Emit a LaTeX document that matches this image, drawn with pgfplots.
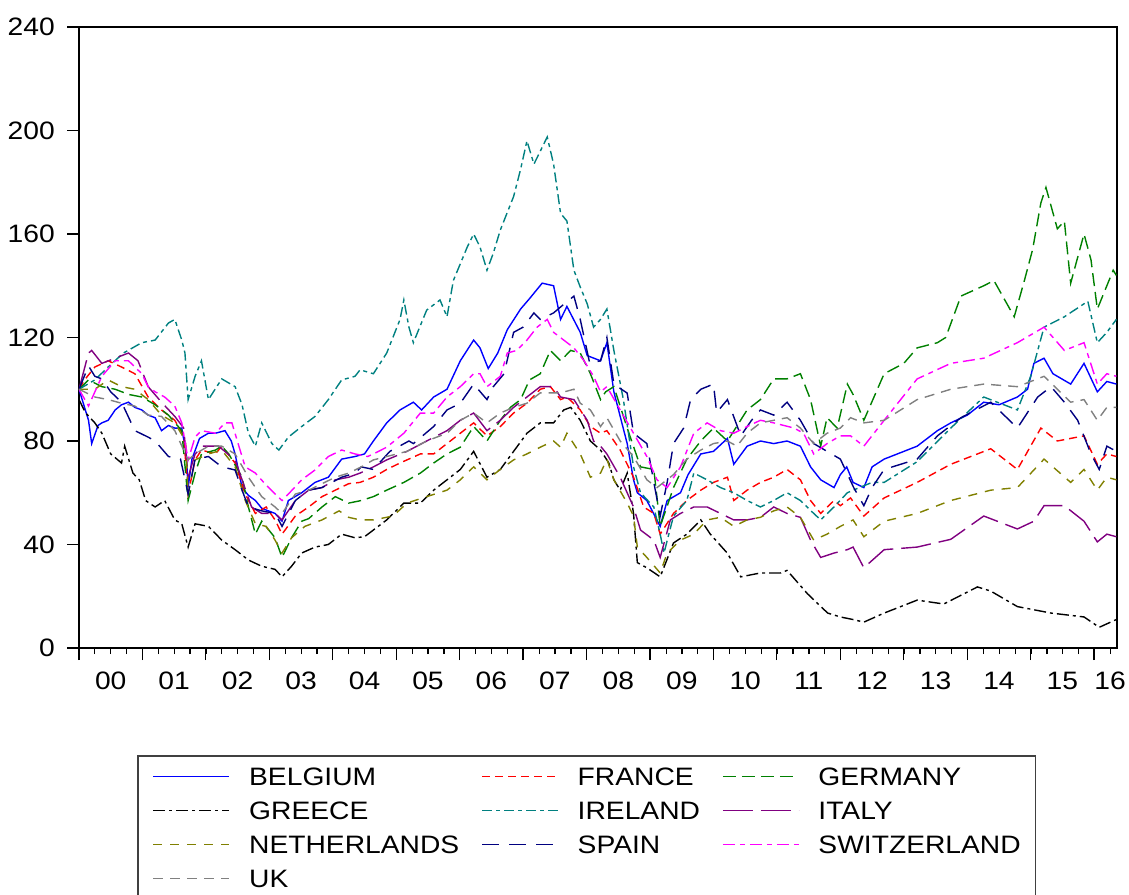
\documentclass[border=0pt]{standalone}
\usepackage{fontspec}
\setmainfont{Liberation Sans}[FakeStretch=1.12]
\usepackage{pgfplots}
\usepackage{pgfplotstable}
\pgfplotsset{compat=1.18}

\definecolor{cBE}{RGB}{0,0,255}
\definecolor{cFR}{RGB}{255,0,0}
\definecolor{cDE}{RGB}{0,128,0}
\definecolor{cGR}{RGB}{0,0,0}
\definecolor{cIE}{RGB}{0,128,128}
\definecolor{cIT}{RGB}{128,0,128}
\definecolor{cNL}{RGB}{128,128,0}
\definecolor{cES}{RGB}{0,0,128}
\definecolor{cCH}{RGB}{255,0,255}
\definecolor{cUK}{RGB}{128,128,128}

\pgfplotstableread{
x y
2000.0 100
2000.05 96
2000.15 88
2000.2 79
2000.3 86
2000.36 87
2000.46 88
2000.57 92
2000.67 94
2000.78 95
2000.88 93
2000.99 92
2001.09 90
2001.2 89
2001.3 84
2001.41 86
2001.51 85
2001.62 85
2001.69 75
2001.72 62
2001.78 73
2001.9 81
2002.04 83
2002.15 83
2002.3 84
2002.4 80
2002.46 75
2002.57 62
2002.67 59
2002.78 57
2002.88 54
2003.09 52
2003.2 49
2003.3 57
2003.51 60
2003.72 64
2003.93 66
2004.14 73
2004.35 74
2004.5 75
2004.64 80
2004.85 87
2005.06 92
2005.27 95
2005.4 92
2005.59 97
2005.8 100
2006.01 111
2006.22 119
2006.32 116
2006.45 108
2006.6 114
2006.75 123
2006.96 131
2007.1 135
2007.3 141
2007.48 140
2007.59 127
2007.69 132
2007.9 122
2008.01 113
2008.22 111
2008.32 118
2008.43 99
2008.64 79
2008.74 65
2008.8 60
2008.95 57
2009.16 47
2009.27 57
2009.48 60
2009.6 67
2009.8 75
2010.0 76
2010.22 81
2010.32 71
2010.53 78
2010.74 80
2010.95 79
2011.16 80
2011.37 78
2011.53 70
2011.69 65
2011.9 62
2012.0 67
2012.1 70
2012.2 64
2012.37 62
2012.5 70
2012.69 73
2013.21 78
2013.53 84
2013.74 87
2014.0 90
2014.26 95
2014.5 94
2014.79 97
2014.95 100
2015.05 110
2015.21 112
2015.35 106
2015.63 102
2015.84 110
2016.05 99
2016.2 103
2016.35 102
}\dBE

\pgfplotstableread{
x y
2000.0 100
2000.1 104
2000.25 108.6
2000.46 111
2000.67 108.6
2000.88 106
2001.09 97
2001.3 92
2001.51 88
2001.65 82
2001.72 59.5
2001.83 72.7
2001.93 76.5
2002.15 75
2002.25 78
2002.46 71.5
2002.62 59.5
2002.78 52
2002.95 54.5
2003.09 49.5
2003.2 44
2003.41 51
2003.62 54.5
2003.83 58.5
2004.04 61
2004.25 63.5
2004.43 64
2004.64 66
2004.85 69
2005.06 71.5
2005.38 75
2005.59 75
2005.8 79
2006.01 83
2006.22 87
2006.43 82
2006.64 85.6
2006.85 90.8
2007.06 94.6
2007.27 100
2007.43 101
2007.59 96
2007.69 97
2007.9 92
2008.06 85.6
2008.22 83
2008.32 84
2008.53 76.5
2008.74 66
2008.9 54.5
2009.06 52
2009.16 44
2009.37 52
2009.58 57
2009.8 61
2010.0 64
2010.22 66
2010.32 57
2010.53 61
2010.74 64
2010.95 66
2011.16 69
2011.37 65
2011.53 57
2011.69 52
2011.9 57
2012.0 55
2012.16 58
2012.37 51
2012.69 58
2013.21 64
2013.74 71
2014.37 77
2014.79 69
2015.16 85
2015.42 80
2015.84 82
2016.05 71
2016.2 75
2016.35 74
}\dFR

\pgfplotstableread{
x y
2000.0 100
2000.15 103.6
2000.36 101
2000.57 100
2000.78 98
2000.99 97
2001.2 94
2001.41 90
2001.62 84
2001.72 57
2001.83 67.6
2001.93 75
2002.15 76.5
2002.25 78
2002.36 75
2002.57 66
2002.67 54.5
2002.78 44
2002.88 49
2003.09 42.6
2003.2 35
2003.35 42.6
2003.51 49
2003.62 50
2003.83 54.5
2004.04 58.5
2004.25 56
2004.45 57
2004.64 58.5
2004.85 61
2005.12 64
2005.38 67.6
2005.59 71.5
2005.8 75
2006.01 77.6
2006.22 85.6
2006.43 80
2006.64 88
2006.8 93
2006.96 96
2007.1 103.6
2007.27 106
2007.43 115
2007.59 111
2007.75 115
2007.9 114
2008.06 106
2008.22 96
2008.3 99
2008.43 101
2008.64 85
2008.85 70
2009.06 69
2009.16 47
2009.37 62
2009.58 73
2009.8 80
2010.0 85
2010.22 80
2010.53 92
2010.74 96
2010.95 104
2011.16 104
2011.37 106
2011.53 96
2011.69 78
2011.79 89
2011.95 85
2012.11 102
2012.2 98
2012.37 88
2012.69 106
2013.0 110
2013.21 116
2013.53 118
2013.66 120
2013.9 136
2014.26 140
2014.42 142
2014.74 128
2014.9 142
2015.03 154
2015.16 172
2015.24 178
2015.42 162
2015.53 165
2015.63 141
2015.84 160
2015.95 150
2016.05 131
2016.2 140
2016.3 146
2016.35 144
}\dDE

\pgfplotstableread{
x y
2000.0 96
2000.1 91
2000.25 87
2000.36 83
2000.5 75
2000.67 71.5
2000.72 78
2000.85 67.6
2000.95 65
2001.05 57
2001.2 54.5
2001.35 57
2001.51 49.5
2001.62 48
2001.72 39
2001.83 48
2002.04 47
2002.25 41.7
2002.46 38
2002.67 34
2002.88 31.6
2003.09 30.4
2003.2 27.5
2003.35 31.6
2003.51 36.7
2003.72 39
2003.93 40
2004.14 44
2004.35 42.6
2004.5 43
2004.85 49.5
2005.12 56
2005.38 56
2005.59 61
2005.8 65
2006.01 69
2006.22 76
2006.43 66
2006.64 69
2006.85 76
2007.06 83
2007.27 87
2007.48 87
2007.64 92
2007.75 93
2007.9 88
2008.06 80
2008.22 76.5
2008.35 71.5
2008.43 65
2008.53 61
2008.64 67.6
2008.74 52
2008.8 33
2008.95 31
2009.16 27.5
2009.37 40.6
2009.58 44
2009.8 49.5
2009.95 44
2010.22 36.6
2010.43 27.5
2010.74 29
2011.06 29
2011.16 30
2011.48 21
2011.8 13.5
2012.0 12
2012.2 11
2012.37 10
2012.69 13.5
2013.21 18.5
2013.63 17
2014.16 23.6
2014.37 22
2014.79 16
2015.32 13.5
2015.84 12
2016.08 8
2016.35 11
}\dGR

\pgfplotstableread{
x y
2000.0 100
2000.25 103.6
2000.46 108.6
2000.7 114
2000.99 118
2001.2 119
2001.41 125.6
2001.51 127
2001.62 119
2001.67 114
2001.72 96
2001.83 105
2001.93 111
2002.04 96
2002.25 104
2002.46 101
2002.57 94
2002.67 83
2002.78 78
2002.88 87
2003.04 79
2003.15 76.5
2003.3 81.5
2003.51 85.6
2003.72 89.5
2003.93 96
2004.14 103.6
2004.35 105
2004.43 107.5
2004.64 106
2004.85 114
2005.06 127
2005.12 134.5
2005.2 124
2005.27 118
2005.48 130.6
2005.69 134.5
2005.8 128
2005.9 142
2006.12 155
2006.22 160
2006.32 155
2006.43 146
2006.53 152.6
2006.64 161.5
2006.85 174.5
2006.96 185
2007.06 196
2007.17 187
2007.38 197.5
2007.48 187
2007.59 168
2007.69 165
2007.8 146
2007.9 139.5
2008.01 133
2008.11 124
2008.22 127
2008.32 131
2008.43 115
2008.58 96
2008.74 70
2008.85 60
2009.06 54.5
2009.16 44
2009.22 36.7
2009.37 51
2009.58 57
2009.69 67.6
2009.9 65
2010.11 62
2010.32 60
2010.53 57
2010.74 54.5
2010.95 57
2011.16 60
2011.37 57
2011.58 52
2011.69 49.5
2011.9 54.5
2012.11 60
2012.3 62
2012.5 64
2012.69 64
2013.21 72
2013.74 85
2014.26 97
2014.79 92
2015.0 105
2015.21 124
2015.53 128
2015.9 134
2016.05 118
2016.2 122
2016.35 127
}\dIE

\pgfplotstableread{
x y
2000.0 100
2000.15 114
2000.2 115
2000.36 110
2000.57 112
2000.78 114
2000.93 111
2001.09 101
2001.3 95
2001.51 89.5
2001.65 85
2001.72 66
2001.83 75
2001.95 78
2002.2 78
2002.46 72.7
2002.57 65
2002.72 54.5
2002.88 52
2003.09 52
2003.2 49.5
2003.41 57
2003.62 61
2003.83 62
2004.04 65
2004.25 66
2004.43 67.6
2004.64 70
2004.85 72.7
2005.17 76
2005.48 80
2005.8 84
2006.01 88
2006.22 90.8
2006.43 84
2006.64 88
2006.85 93
2007.06 97
2007.27 101
2007.48 101
2007.59 97
2007.8 96
2008.01 88
2008.11 80
2008.22 78
2008.32 75
2008.53 66
2008.74 54.5
2008.85 45.6
2009.06 41.7
2009.16 35
2009.32 49.5
2009.48 52
2009.69 54.5
2009.9 54.5
2010.11 52
2010.32 49.5
2010.53 49.5
2010.74 50.5
2010.95 54.5
2011.16 52
2011.37 50.5
2011.53 41.7
2011.69 35
2011.9 36.7
2012.11 38
2012.2 39
2012.37 31
2012.69 38
2013.21 39
2013.74 42
2014.26 51
2014.79 46
2015.05 49
2015.21 55
2015.53 55
2015.84 49
2016.05 41
2016.2 44
2016.35 43
}\dIT

\pgfplotstableread{
x y
2000.0 100
2000.25 100
2000.46 103.6
2000.67 101
2000.88 100
2001.09 96
2001.3 90
2001.51 87
2001.68 80
2001.72 59.5
2001.83 72.7
2002.04 75
2002.25 76.5
2002.46 70
2002.62 57
2002.78 48
2002.95 47
2003.09 41.7
2003.2 36.7
2003.35 42.6
2003.56 47
2003.83 49.5
2004.1 53
2004.25 50.5
2004.43 49.5
2004.64 49.5
2004.95 51
2005.17 56
2005.48 58.5
2005.8 61
2006.01 65
2006.22 70
2006.43 65
2006.64 69
2006.85 72.7
2007.06 75
2007.27 77.6
2007.48 80
2007.59 77.6
2007.69 83
2007.9 75
2008.06 66
2008.22 67.6
2008.32 73
2008.43 65
2008.64 56
2008.74 51
2008.8 39
2008.95 35
2009.16 29
2009.27 36.7
2009.48 41.7
2009.69 44
2009.9 49.5
2010.11 50.5
2010.32 47
2010.53 49.5
2010.74 50.5
2010.95 53
2011.16 54.5
2011.37 50.5
2011.58 41.7
2011.79 44
2012.0 47
2012.2 49.5
2012.37 43
2012.69 49
2013.21 52
2013.74 57
2014.37 61
2014.79 62
2015.21 73
2015.63 64
2015.84 69
2016.05 61
2016.2 66
2016.35 65
}\dNL

\pgfplotstableread{
x y
2000.0 100
2000.15 109
2000.25 105
2000.36 104
2000.5 99
2000.67 95
2000.88 84
2001.09 81.5
2001.2 80
2001.41 74
2001.6 73
2001.72 59.5
2001.83 73
2002.04 74
2002.25 70
2002.46 68.8
2002.57 61
2002.67 54.5
2002.88 53
2003.09 52
2003.2 47
2003.41 57
2003.62 61
2003.83 62
2004.14 66
2004.35 67.6
2004.45 70
2004.64 69
2004.9 76
2005.2 80
2005.27 79
2005.59 85.6
2005.8 92
2006.01 94.6
2006.22 102
2006.43 96
2006.53 101
2006.7 106
2006.85 122
2007.0 124
2007.17 129.5
2007.27 127
2007.48 129.5
2007.6 132
2007.8 136
2007.9 127
2008.05 110
2008.22 111
2008.32 120
2008.43 102
2008.64 98.5
2008.74 83
2008.95 79
2009.06 64
2009.16 51
2009.27 64
2009.37 79
2009.53 85
2009.64 96
2009.8 100
2010.0 102
2010.05 91
2010.22 96
2010.43 82
2010.6 88
2010.74 92
2010.95 90
2011.16 95
2011.37 88
2011.58 79
2011.79 76
2012.0 73
2012.21 62
2012.37 55
2012.5 62
2012.69 69
2013.21 73
2013.53 82
2013.9 89
2014.37 95
2014.79 85
2015.11 97
2015.32 101
2015.53 95
2015.74 88
2015.95 75
2016.08 69
2016.2 78
2016.35 76
}\dES

\pgfplotstableread{
x y
2000.0 100
2000.15 93.5
2000.36 105
2000.57 111
2000.78 111
2000.99 106
2001.09 101
2001.2 99
2001.35 97
2001.51 93.5
2001.62 87
2001.72 72.7
2001.83 81.5
2001.93 84
2002.15 83
2002.3 87
2002.41 87
2002.52 78
2002.62 70
2002.78 67.6
2002.93 63.5
2003.09 59.5
2003.2 57
2003.3 59.5
2003.51 65
2003.72 68.8
2003.93 74
2004.14 76.5
2004.35 75
2004.55 74
2004.64 75
2004.85 77.6
2005.12 83
2005.38 90.8
2005.59 90.8
2005.8 97
2006.01 101
2006.22 106
2006.32 106
2006.43 101
2006.64 105
2006.75 114
2006.9 115
2007.06 119
2007.22 124
2007.38 127
2007.48 122
2007.64 119
2007.8 116
2007.96 111
2008.11 105
2008.22 99
2008.32 101
2008.53 92
2008.74 83
2008.95 74
2009.11 65
2009.27 62
2009.48 70
2009.69 83
2009.9 87
2010.11 84
2010.32 83
2010.53 85.6
2010.74 88
2010.95 87
2011.27 85
2011.42 83
2011.58 75
2011.79 79
2012.0 82
2012.16 82
2012.37 78
2012.69 88
2013.21 104
2013.74 110
2014.26 112
2014.79 118
2015.21 124
2015.53 115
2015.84 118
2016.05 102
2016.2 106
2016.35 105
}\dCH

\pgfplotstableread{
x y
2000.0 100
2000.25 97
2000.46 96
2000.67 94.6
2000.88 93.5
2001.09 90
2001.3 89.5
2001.51 84
2001.72 72.7
2001.83 75
2002.04 78
2002.25 78
2002.46 75
2002.67 66
2002.88 58.5
2003.09 54.5
2003.2 52
2003.41 59.5
2003.62 61
2003.83 63.5
2004.04 66
2004.25 67.6
2004.45 70
2004.64 72.7
2004.85 74
2005.17 76
2005.48 80
2005.8 83
2006.01 88
2006.22 90.8
2006.43 87
2006.64 90.8
2006.85 93
2007.06 94.6
2007.27 98.6
2007.59 98.6
2007.8 100
2007.9 94.6
2008.06 92
2008.22 85.6
2008.32 89
2008.53 80
2008.74 74
2008.95 65
2009.11 62
2009.37 67
2009.58 73
2009.8 76.5
2010.0 79
2010.22 80
2010.37 78
2010.53 83
2010.74 87
2010.95 88
2011.16 89
2011.37 85
2011.58 79
2011.79 83
2012.0 85
2012.16 89
2012.37 87
2012.69 88
2013.21 96
2013.74 100
2014.26 102
2014.79 101
2015.21 105
2015.63 95
2015.84 96
2016.05 88
2016.2 93
2016.35 93
}\dUK

\begin{document}
\fontsize{12.6pt}{15pt}\selectfont
\begin{tikzpicture}
\begin{axis}[
  at={(39.5pt,123pt)}, anchor=south west,
  scale only axis, width=519pt, height=310.5pt,
  xmin=2000, xmax=2016.36, ymin=0, ymax=240,
  ytick={0,40,...,240},
  xtick={2000,...,2016}, xticklabels={},
  minor xtick={2000.25,2000.5,...,2016.3},
  extra x ticks={2000.5,2001.5,2002.5,2003.5,2004.5,2005.5,2006.5,2007.5,2008.5,2009.5,2010.5,2011.5,2012.5,2013.5,2014.5,2015.5,2016.25},
  extra x tick labels={00,01,02,03,04,05,06,07,08,09,10,11,12,13,14,15,16},
  extra x tick style={major tick length=0pt, xticklabel style={yshift=-7.5pt}},
  tick align=outside, xtick pos=bottom, ytick pos=left,
  major tick length=6pt, minor tick length=3pt,
  axis line style={line width=0.75pt},
  tick style={black, line width=0.6pt},
  tick label style={font=\fontsize{12.6pt}{15pt}\selectfont},
  yticklabel style={xshift=-1.7pt},
  /pgf/number format/assume math mode=true,
  legend columns=3,
  legend cell align=left,
  legend image code/.code={\draw[#1] (0pt,0pt) -- (38pt,0pt);},
  legend style={at={(0.0559,-0.1723)}, anchor=north west,
    draw=black!75, line width=0.75pt,
    inner xsep=7.5pt, inner ysep=1.75pt,
    font=\fontsize{12.6pt}{15pt}\selectfont,
    nodes={inner xsep=0pt, inner ysep=3.75pt, text height=9.5pt, text depth=0pt},
    /tikz/every odd column/.append style={column sep=9.5pt},
    /tikz/every even column/.append style={column sep=11pt}},
]
\addplot[cBE, line width=0.7pt, solid] table {\dBE};
\addlegendentry{BELGIUM}
\addplot[cFR, line width=0.7pt, dash pattern=on 4pt off 2.5pt] table {\dFR};
\addlegendentry{FRANCE}
\addplot[cDE, line width=0.7pt, dash pattern=on 6.5pt off 3pt] table {\dDE};
\addlegendentry{GERMANY}
\addplot[cGR, line width=0.7pt, dash pattern=on 6pt off 2pt on 1.5pt off 2pt] table {\dGR};
\addlegendentry{GREECE}
\addplot[cIE, line width=0.7pt, dash pattern=on 5pt off 2pt on 2pt off 2pt] table {\dIE};
\addlegendentry{IRELAND}
\addplot[cIT, line width=0.7pt, dash pattern=on 15pt off 4pt] table {\dIT};
\addlegendentry{ITALY}
\addplot[cNL, line width=0.7pt, dash pattern=on 4.5pt off 4pt] table {\dNL};
\addlegendentry{NETHERLANDS}
\addplot[cES, line width=0.7pt, dash pattern=on 8.5pt off 5pt] table {\dES};
\addlegendentry{SPAIN}
\addplot[cCH, line width=0.7pt, dash pattern=on 6pt off 2.5pt on 2.5pt off 2.5pt] table {\dCH};
\addlegendentry{SWITZERLAND}
\addplot[cUK, line width=0.7pt, dash pattern=on 5pt off 3.5pt] table {\dUK};
\addlegendentry{UK}
\end{axis}
\pgfresetboundingbox
\path[use as bounding box] (0,0) rectangle (564.5pt,447pt);
\end{tikzpicture}
\end{document}
